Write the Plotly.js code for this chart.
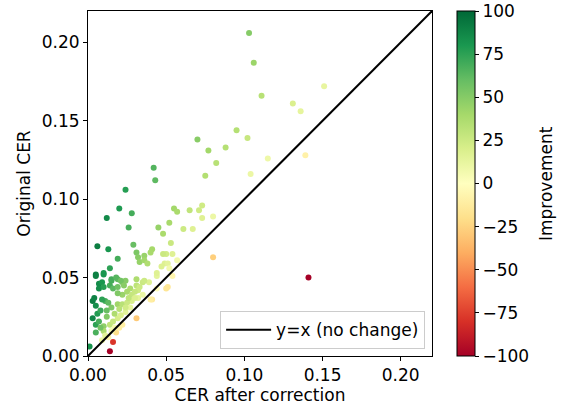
<!DOCTYPE html>
<html>
<head>
<meta charset="utf-8">
<script src="https://cdn.plot.ly/plotly-3.0.1.min.js"></script>
<style>html,body{margin:0;padding:0;background:#fff;}#chart{width:562px;height:407px;}</style>
</head>
<body>
<div id="chart"></div>
<script>
// CER after correction (x)
const cerAfter = [
0.103,0.106,0.111,0.095,0.102,0.070,0.151,0.131,0.136,0.115,0.139,0.077,0.088,0.082,0.075,0.104,0.073,0.042,0.043,0.055,
0.057,0.065,0.071,0.073,0.080,0.024,0.020,0.028,0.012,0.026,0.052,0.045,0.048,0.061,0.067,0.029,0.006,0.013,0.041,0.053,
0.040,0.031,0.050,0.048,0.032,0.036,0.019,0.080,0.033,0.036,0.038,0.049,0.051,0.047,0.044,0.141,0.005,0.010,0.007,0.009,
0.015,0.014,0.019,0.022,0.024,0.031,0.031,0.035,0.039,0.044,0.051,0.054,0.041,0.031,0.003,0.005,0.006,0.008,0.005,0.007,
0.010,0.001,0.016,0.014,0.018,0.009,0.015,0.011,0.015,0.019,0.024,0.019,0.014,0.017,0.028,0.032,0.010,0.005,0.014,0.005,
0.010,0.015,0.018,0.021,0.007,0.010,0.016,0.019,0.023,0.027,0.025,0.022,0.019,0.028,0.032,0.036,0.035,0.030,0.004,0.009,
0.013,0.050,0.040,0.020,0.022,0.025,0.027,0.017,0.021,0.012,0.012,0.026,0.030,0.033,0.024,0.016,0.008,0.003,0.013,0.011,
0.020,0.022,0.052,0.054,0.044,0.057
];
// Original CER (y)
const cerOriginal = [
0.206,0.187,0.166,0.144,0.139,0.138,0.172,0.161,0.156,0.126,0.128,0.131,0.133,0.123,0.115,0.116,0.096,0.120,0.112,0.094,
0.092,0.093,0.093,0.088,0.089,0.106,0.094,0.091,0.088,0.082,0.085,0.082,0.078,0.081,0.081,0.071,0.070,0.068,0.068,0.072,
0.066,0.066,0.065,0.065,0.063,0.064,0.062,0.063,0.060,0.061,0.059,0.059,0.059,0.057,0.051,0.050,0.052,0.053,0.046,0.047,
0.048,0.045,0.049,0.047,0.048,0.049,0.045,0.047,0.047,0.043,0.044,0.051,0.036,0.024,0.035,0.032,0.027,0.029,0.020,0.022,
0.019,0.006,0.009,0.003,0.015,0.010,0.016,0.035,0.031,0.033,0.028,0.024,0.020,0.018,0.035,0.037,0.016,0.015,0.056,0.051,
0.052,0.049,0.050,0.048,0.043,0.044,0.043,0.044,0.045,0.043,0.041,0.039,0.040,0.039,0.042,0.048,0.039,0.037,0.037,0.036,
0.034,0.043,0.036,0.030,0.033,0.034,0.031,0.027,0.026,0.025,0.029,0.037,0.041,0.044,0.031,0.022,0.018,0.024,0.012,0.013,
0.018,0.020,0.056,0.065,0.053,0.061
];
// Improvement (%), colour value of each point
const improvement = [
50,43,33,34,27,49,12,19,13,9,-9,41,34,33,35,10,24,65,62,41,
38,30,24,17,10,77,79,69,86,68,39,45,38,25,17,59,91,81,40,26,
39,53,23,26,49,44,69,-27,45,41,36,17,14,18,14,-100,90,81,85,81,
69,69,61,53,50,37,31,26,17,-2,-16,-6,-14,-29,91,84,78,72,75,68,
47,83,-78,-100,-20,10,6,69,52,42,14,21,30,6,20,14,38,67,75,90,
81,69,64,56,84,77,63,57,49,37,39,44,52,28,24,25,10,19,89,75,
62,-16,-11,33,33,26,13,37,19,52,59,30,27,25,23,27,56,88,-8,15,
-11,-10,7,17,17,7
];
const diagX = [0, 0.22];
const diagY = [0, 0.22];
const xTicks = [0, 0.05, 0.10, 0.15, 0.20];
const yTicks = [0, 0.05, 0.10, 0.15, 0.20];
const cbTicks = [-100, -75, -50, -25, 0, 25, 50, 75, 100];

const rdylgn = [
 [0.0,'#a50026'],[0.1,'#d73027'],[0.2,'#f46d43'],[0.3,'#fdae61'],[0.4,'#fee08b'],
 [0.5,'#ffffbf'],[0.6,'#d9ef8b'],[0.7,'#a6d96a'],[0.8,'#66bd63'],[0.9,'#1a9850'],[1.0,'#006837']
];
const font = {family:'DejaVu Sans, sans-serif', size:17, color:'#000'};

const traces = [
 {
  type:'scatter', mode:'markers', x:cerAfter, y:cerOriginal, showlegend:false, hoverinfo:'skip',
  marker:{size:6, color:improvement, cmin:-100, cmax:100, colorscale:rdylgn, showscale:true,
    line:{width:0},
    colorbar:{x:1.073, xanchor:'left', xpad:0, y:0.5, yanchor:'middle', ypad:0, len:1, lenmode:'fraction',
      thickness:18, thicknessmode:'pixels', outlinewidth:1, outlinecolor:'#000',
      tickmode:'array', tickvals:cbTicks, ticks:'outside', ticklen:4, tickcolor:'#000',
      tickfont:font}
  }
 },
 {
  type:'scatter', mode:'lines', x:diagX, y:diagY, name:'y=x (no change)', showlegend:true,
  line:{color:'#000', width:2}, hoverinfo:'skip'
 }
];

const layout = {
  width:562, height:407,
  margin:{l:88, r:130, t:11, b:51},
  paper_bgcolor:'#fff', plot_bgcolor:'#fff',
  font:font,
  showlegend:true,
  legend:{x:0.98, y:0.02, xanchor:'right', yanchor:'bottom', bgcolor:'rgba(255,255,255,0.8)',
    bordercolor:'#cccccc', borderwidth:1, font:font, itemwidth:45},
  annotations:[{text:'Improvement', xref:'paper', yref:'paper', x:1.33, y:0.5, xanchor:'center', yanchor:'middle',
    textangle:-90, showarrow:false, font:font}],
  xaxis:{range:[0,0.22], tickmode:'array', tickvals:xTicks, tickformat:'.2f', ticks:'outside', ticklen:4,
    tickcolor:'#000', showline:true, linecolor:'#000', linewidth:1, mirror:true, showgrid:false, zeroline:false,
    tickfont:font, title:{text:'CER after correction', font:font, standoff:2}},
  yaxis:{range:[0,0.22], tickmode:'array', tickvals:yTicks, tickformat:'.2f', ticks:'outside', ticklen:4,
    tickcolor:'#000', showline:true, linecolor:'#000', linewidth:1, mirror:true, showgrid:false, zeroline:false,
    tickfont:font, title:{text:'Original CER', font:font, standoff:6}}
};

Plotly.newPlot('chart', traces, layout, {displayModeBar:false, staticPlot:true});
</script>
</body>
</html>
